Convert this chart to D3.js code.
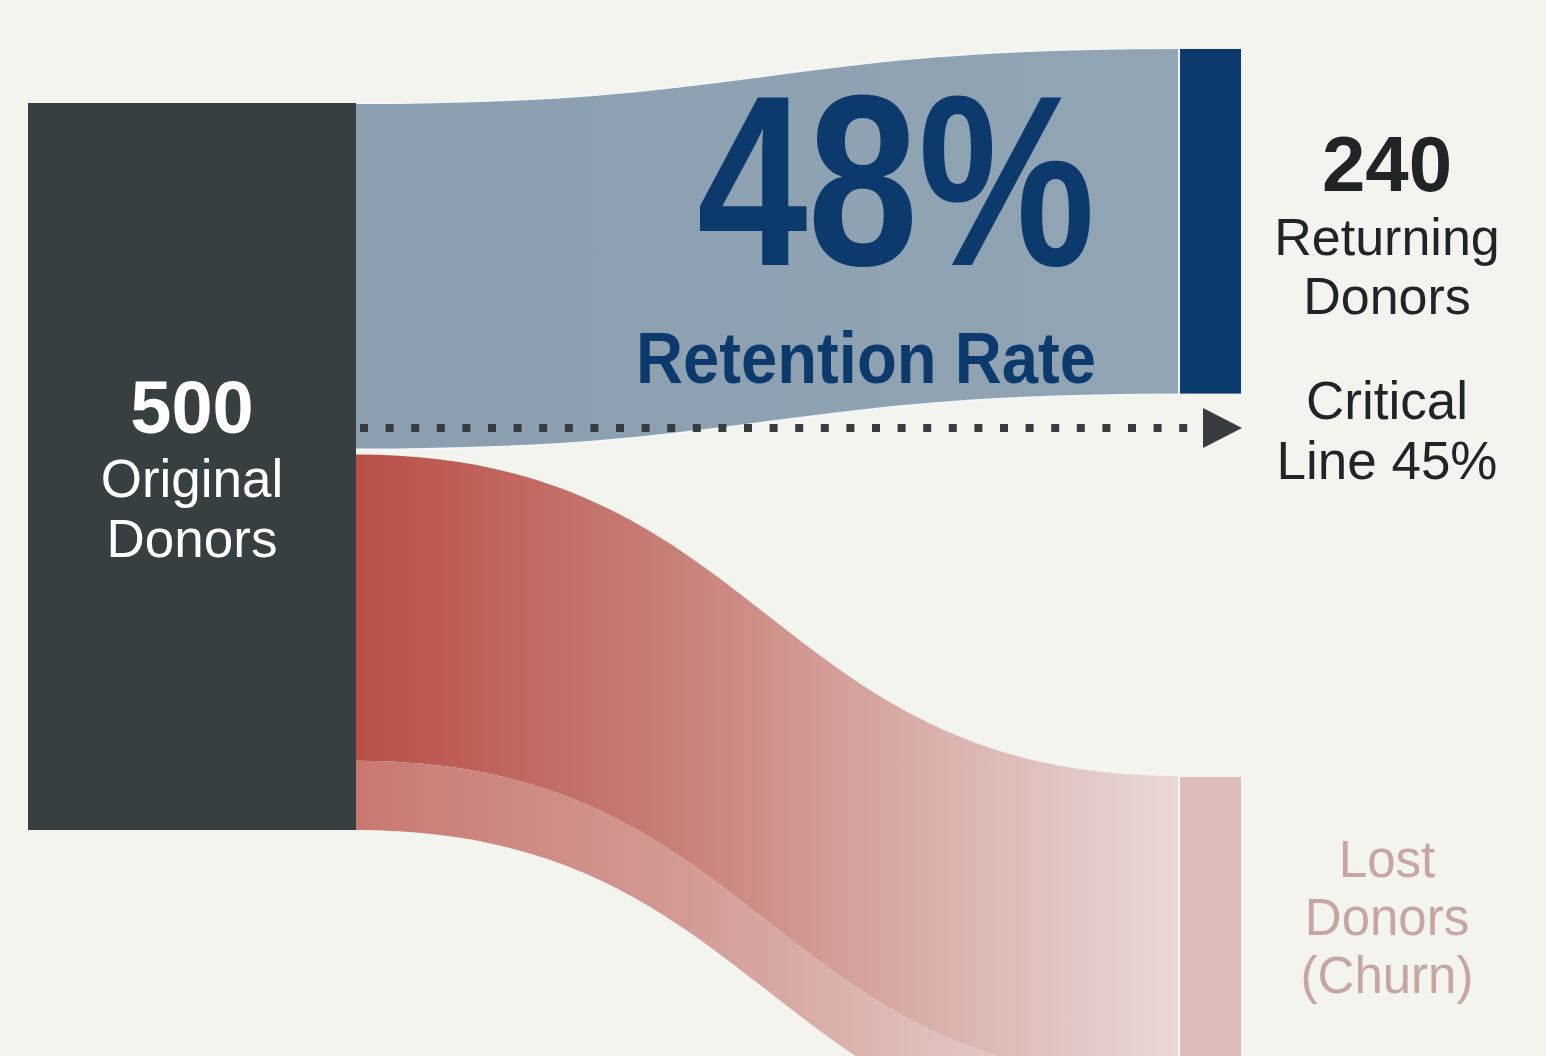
<!DOCTYPE html>
<html>
<head>
<meta charset="utf-8">
<script src="https://cdn.jsdelivr.net/npm/d3@7"></script>
<style>
  html, body { margin: 0; padding: 0; background: #f4f4ef; }
  svg { display: block; }
</style>
</head>
<body>
<svg id="chart" width="1546" height="1056"></svg>
<script>
// Donor retention flow: one year's donors split into returning and lost.
const totalDonors = 500;
const returningDonors = 240;
const lostSegments = [212, 48];      // churn: main band + trailing lighter band
const criticalRate = 0.45;
const sourceLabel = ["Original", "Donors"];
const returningLabel = ["Returning", "Donors"];
const lostLabel = ["Lost", "Donors", "(Churn)"];
const criticalLabel = ["Critical", "Line 45%"];

const W = 1546, H = 1056;
const svg = d3.select("#chart");
svg.append("rect").attr("width", W).attr("height", H).attr("fill", "#f4f4ef");

const defs = svg.append("defs");

// thickness scale: donors -> pixels
const gap = 5;
const thick = d3.scaleLinear().domain([0, totalDonors]).range([0, 722]);
// horizontal positions of the two columns
const col = d3.scaleLinear().domain([0, 1]).range([356, 1179]);
const leftNodeX = 28, rightNodeW = 63;

const srcTop = 103;
const srcH = thick(totalDonors) + gap;
const retTopRight = 48;
const lostTopRight = 776;

// band between two vertical segments with horizontal-tangent cubic edges
function band(x0, y0a, y0b, x1, y1a, y1b) {
  const xm = (x0 + x1) / 2;
  const p = d3.path();
  p.moveTo(x0, y0a);
  p.bezierCurveTo(xm, y0a, xm, y1a, x1, y1a);
  p.lineTo(x1, y1b);
  p.bezierCurveTo(xm, y1b, xm, y0b, x0, y0b);
  p.closePath();
  return p.toString();
}
function edge(x0, y0, x1, y1) {
  const xm = (x0 + x1) / 2;
  const p = d3.path();
  p.moveTo(x0, y0);
  p.bezierCurveTo(xm, y0, xm, y1, x1, y1);
  return p.toString();
}

function hGrad(id, stops) {
  const g = defs.append("linearGradient").attr("id", id)
    .attr("gradientUnits", "userSpaceOnUse")
    .attr("x1", col(0)).attr("x2", col(1)).attr("y1", 0).attr("y2", 0);
  stops.forEach(([o, c]) => g.append("stop").attr("offset", o).attr("stop-color", c));
}
hGrad("gRet", [[0, "#8b9fb0"], [1, "#90a4b4"]]);
hGrad("gLost", [[0, "#b84f47"], [0.4, "#c9817a"], [0.7, "#dab0ac"], [1, "#e8d9d5"]]);
hGrad("gLost2", [[0, "#c97871"], [0.4, "#d39a95"], [0.7, "#dfbfbb"], [1, "#eadcd8"]]);

const x0 = col(0), x1 = col(1);

// returning flow
const retH = thick(returningDonors);
svg.append("path")
  .attr("d", band(x0, srcTop, srcTop + retH, x1, retTopRight, retTopRight + retH))
  .attr("fill", "url(#gRet)");
// soft light rim along the flow's edges
[[srcTop, retTopRight], [srcTop + retH, retTopRight + retH]].forEach(([a, b]) => {
  svg.append("path").attr("d", edge(x0, a, x1, b))
    .attr("fill", "none").attr("stroke", "#f2f6f9").attr("stroke-width", 2);
});

// lost flows, stacked below the returning one
let yl = srcTop + retH + gap, yr = lostTopRight;
lostSegments.forEach((v, i) => {
  const h = thick(v);
  svg.append("path")
    .attr("d", band(x0, yl, yl + h, x1, yr, yr + h))
    .attr("fill", i === 0 ? "url(#gLost)" : "url(#gLost2)");
  yl += h; yr += h;
});
const lostTotal = d3.sum(lostSegments);

// nodes
svg.append("rect")
  .attr("x", leftNodeX).attr("y", srcTop)
  .attr("width", x0 - leftNodeX).attr("height", srcH)
  .attr("fill", "#373f43");
svg.append("rect")
  .attr("x", x1).attr("y", retTopRight)
  .attr("width", rightNodeW).attr("height", retH)
  .attr("fill", "#0b3a6c")
  .attr("stroke", "#eef3f6").attr("stroke-width", 2);
svg.append("rect")
  .attr("x", x1).attr("y", lostTopRight)
  .attr("width", rightNodeW).attr("height", thick(lostTotal))
  .attr("fill", "#dcbdb9")
  .attr("stroke", "#fbf1ef").attr("stroke-width", 2);

// critical threshold line, measured down from the top of the source node
const critY = srcTop + thick(totalDonors * criticalRate);
svg.append("line")
  .attr("x1", x0 + 4).attr("x2", 1200)
  .attr("y1", critY).attr("y2", critY)
  .attr("stroke", "#363c40").attr("stroke-width", 8)
  .attr("stroke-dasharray", "8 17.6");
svg.append("path")
  .attr("d", `M1203,${critY - 20} L1242,${critY} L1203,${critY + 20} Z`)
  .attr("fill", "#363c40");

// big retention figure, set in a condensed bold face
const rate = returningDonors / totalDonors;
const condensed = "'Liberation Sans Narrow', 'Liberation Sans', Arial, sans-serif";
svg.append("text")
  .attr("x", 697).attr("y", 265)
  .attr("textLength", 398).attr("lengthAdjust", "spacingAndGlyphs")
  .attr("font-family", condensed)
  .attr("font-weight", 700).attr("font-size", 243)
  .attr("fill", "#0c3a6d")
  .text(`${Math.round(rate * 100)}%`);
svg.append("text")
  .attr("x", 636).attr("y", 383)
  .attr("textLength", 460).attr("lengthAdjust", "spacingAndGlyphs")
  .attr("font-family", condensed)
  .attr("font-weight", 700).attr("font-size", 72)
  .attr("fill", "#0c3a6d")
  .text("Retention Rate");

// node labels
const font = "'Liberation Sans', Arial, sans-serif";
function label(x, lines, fill) {
  const g = svg.append("g").attr("font-family", font).attr("fill", fill)
    .attr("text-anchor", "middle");
  lines.forEach(([txt, y, size, weight]) => {
    g.append("text").attr("x", x).attr("y", y)
      .attr("font-size", size).attr("font-weight", weight).text(txt);
  });
}
label(192, [
  [String(totalDonors), 433, 74, 700],
  [sourceLabel[0], 497, 53, 400],
  [sourceLabel[1], 557, 53, 400]
], "#ffffff");
label(1387, [
  [String(returningDonors), 191, 78, 700],
  [returningLabel[0], 255, 52, 400],
  [returningLabel[1], 314, 52, 400]
], "#1f2427");
label(1387, [
  [criticalLabel[0], critY - 9, 53, 400],
  [criticalLabel[1], critY + 51, 53, 400]
], "#1f2427");
label(1387, [
  [lostLabel[0], 877, 51, 400],
  [lostLabel[1], 935, 51, 400],
  [lostLabel[2], 993, 51, 400]
], "#c7a5a4");
</script>
</body>
</html>
